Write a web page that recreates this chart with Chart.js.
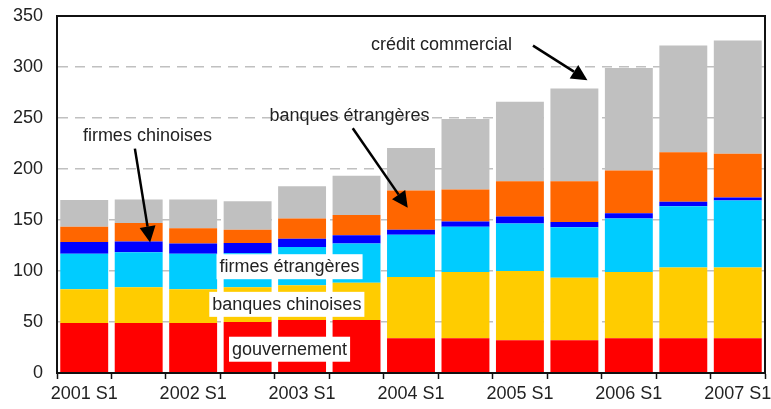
<!DOCTYPE html>
<html>
<head>
<meta charset="utf-8">
<script src="https://cdn.jsdelivr.net/npm/chart.js@4"></script>
<style>
  html, body { margin: 0; padding: 0; background: #ffffff; }
  #wrap { width: 771px; height: 409px; position: relative; }
</style>
</head>
<body>
<div id="wrap"><canvas id="c" width="771" height="409"></canvas></div>
<script>
// Half-year periods
const categories = ['2001 S1', '2001 S2', '2002 S1', '2002 S2', '2003 S1', '2003 S2', '2004 S1',
                    '2004 S2', '2005 S1', '2005 S2', '2006 S1', '2006 S2', '2007 S1'];

// Stacked components, bottom to top
const gouvernement       = [49, 49, 49, 50, 52, 52, 34, 34, 32, 32, 34, 34, 34];
const banquesChinoises   = [33, 35, 33, 34, 34, 36.5, 60, 65, 68, 61.5, 65, 69.5, 69.5];
const firmesEtrangeres   = [35, 34.5, 35, 33.5, 37.5, 38.5, 41.5, 44.5, 46.5, 49.5, 52.5, 60, 65.5];
const firmesChinoises    = [11.5, 10.5, 10, 10, 8, 8, 5, 5, 7, 5, 5, 4.5, 3];
const banquesEtrangeres  = [15, 18, 15, 13, 20, 20, 38.5, 31.5, 34.5, 40, 42, 48.5, 43];
const creditCommercial   = [26, 23, 28, 28, 31.5, 38.5, 41.5, 69, 78, 91, 100.5, 104.5, 111];

const yTicks = [0, 50, 100, 150, 200, 250, 300, 350];

const FONT = 'Liberation Sans, Arial, sans-serif';

// Callout texts placed in data space: x = category index, y = value
const boxedLabels = [
  { text: 'firmes étrangères', x: 3.77, y: 104.7 },
  { text: 'banques chinoises', x: 3.72, y: 67.8 },
  { text: 'gouvernement',      x: 3.77, y: 23.8 }
];
const arrowLabels = [
  { text: 'crédit commercial',  x: 6.56, y: 322, from: [8.24, 321], to: [9.24, 287] },
  { text: 'banques étrangères', x: 4.87, y: 252, from: [4.93, 240], to: [5.94, 162] },
  { text: 'firmes chinoises',   x: 1.16, y: 232, from: [0.93, 220], to: [1.21, 128] }
];

const callouts = {
  id: 'callouts',
  afterDatasetsDraw(chart) {
    const { ctx, scales: { x, y } } = chart;
    ctx.save();
    ctx.font = '18px ' + FONT;
    ctx.textAlign = 'center';
    ctx.textBaseline = 'middle';

    boxedLabels.forEach(l => {
      const px = x.getPixelForValue(l.x), py = y.getPixelForValue(l.y);
      const w = ctx.measureText(l.text).width + 6;
      ctx.fillStyle = '#ffffff';
      ctx.fillRect(px - w / 2, py - 12, w, 25);
      ctx.fillStyle = '#222222';
      ctx.fillText(l.text, px, py + 1);
    });

    arrowLabels.forEach(l => {
      const px = x.getPixelForValue(l.x), py = y.getPixelForValue(l.y);
      ctx.fillStyle = '#222222';
      ctx.fillText(l.text, px, py);

      const x0 = x.getPixelForValue(l.from[0]), y0 = y.getPixelForValue(l.from[1]);
      const x1 = x.getPixelForValue(l.to[0]),   y1 = y.getPixelForValue(l.to[1]);
      const ang = Math.atan2(y1 - y0, x1 - x0);
      const headLen = 16, headW = 8;
      const bx = x1 - headLen * Math.cos(ang), by = y1 - headLen * Math.sin(ang);
      ctx.strokeStyle = '#000000';
      ctx.lineWidth = 2.5;
      ctx.beginPath();
      ctx.moveTo(x0, y0);
      ctx.lineTo(bx, by);
      ctx.stroke();
      ctx.fillStyle = '#000000';
      ctx.beginPath();
      ctx.moveTo(x1, y1);
      ctx.lineTo(bx + headW * Math.sin(ang), by - headW * Math.cos(ang));
      ctx.lineTo(bx - headW * Math.sin(ang), by + headW * Math.cos(ang));
      ctx.closePath();
      ctx.fill();
    });
    ctx.restore();
  },
  afterDraw(chart) {
    // frame around the plot area
    const { ctx, chartArea: a } = chart;
    ctx.save();
    ctx.strokeStyle = '#111111';
    ctx.lineWidth = 2;
    ctx.strokeRect(a.left, a.top, a.right - a.left, a.bottom - a.top);
    ctx.restore();
  }
};

const series = [
  { label: 'gouvernement',       data: gouvernement,      color: '#FF0000' },
  { label: 'banques chinoises',  data: banquesChinoises,  color: '#FFCC00' },
  { label: 'firmes étrangères',  data: firmesEtrangeres,  color: '#00CCFF' },
  { label: 'firmes chinoises',   data: firmesChinoises,   color: '#0000FF' },
  { label: 'banques étrangères', data: banquesEtrangeres, color: '#FF6600' },
  { label: 'crédit commercial',  data: creditCommercial,  color: '#C0C0C0' }
];

new Chart(document.getElementById('c'), {
  type: 'bar',
  data: {
    labels: categories,
    datasets: series.map(s => ({
      label: s.label,
      data: s.data,
      backgroundColor: s.color,
      borderWidth: 0,
      barPercentage: 0.88,
      categoryPercentage: 1
    }))
  },
  options: {
    responsive: false,
    animation: false,
    layout: { padding: { top: 16, right: 6, left: 0, bottom: 0 } },
    plugins: {
      legend: { display: false },
      tooltip: { enabled: false },
      title: { display: false }
    },
    scales: {
      x: {
        stacked: true,
        afterFit(s) { s.height = 36; s.paddingLeft = 0; s.paddingRight = 0; },
        grid: {
          offset: true,
          drawOnChartArea: false,
          drawTicks: true,
          tickLength: 6,
          tickColor: '#111111',
          tickWidth: 1.5
        },
        border: { display: true, color: '#111111', width: 2 },
        ticks: {
          autoSkip: false,
          maxRotation: 0,
          padding: 4,
          color: '#222222',
          font: { family: FONT, size: 18 },
          callback(v) {
            const l = categories[v];
            return l.endsWith('S1') ? l : '';
          }
        }
      },
      y: {
        stacked: true,
        min: yTicks[0],
        max: yTicks[yTicks.length - 1],
        afterFit(s) { s.width = 57; s.paddingTop = 0; s.paddingBottom = 0; },
        afterBuildTicks(s) { s.ticks = yTicks.map(v => ({ value: v })); },
        grid: {
          drawTicks: false,
          color: '#C0C0C0',
          lineWidth: 1.5
        },
        border: { display: true, color: '#111111', width: 2, dash: [10, 7] },
        ticks: {
          padding: 14,
          color: '#222222',
          font: { family: FONT, size: 18 }
        }
      }
    }
  },
  plugins: [callouts]
});
</script>
</body>
</html>
